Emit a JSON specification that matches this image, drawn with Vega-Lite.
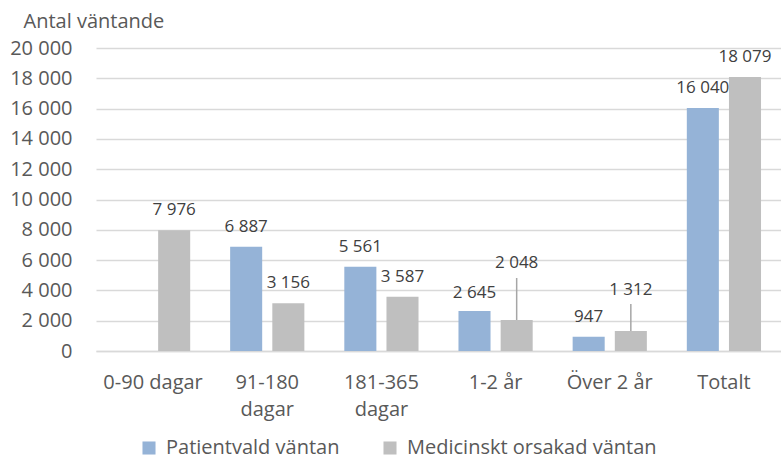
{
  "$schema": "https://vega.github.io/schema/vega-lite/v6.json",
  "width": 685,
  "height": 303,
  "autosize": {"type": "none"},
  "padding": {"left": 96, "top": 48, "right": 0, "bottom": 118},
  "background": "white",
  "config": {
    "font": "Open Sans",
    "view": {"stroke": null},
    "locale": {"number": {"decimal": ",", "thousands": " ", "grouping": [3], "currency": ["", " kr"]}},
    "axis": {"labelFont": "Open Sans", "labelFontSize": 20, "labelColor": "#595959", "titleFont": "Open Sans", "titleColor": "#595959"},
    "legend": {"labelFont": "Open Sans", "labelFontSize": 20, "labelColor": "#595959"}
  },
  "data": {
    "values": [
      {"kategori": "0-90 dagar", "serie": "Patientvald väntan", "antal": null},
      {"kategori": "0-90 dagar", "serie": "Medicinskt orsakad väntan", "antal": 7976},
      {"kategori": "91-180 dagar", "serie": "Patientvald väntan", "antal": 6887},
      {"kategori": "91-180 dagar", "serie": "Medicinskt orsakad väntan", "antal": 3156},
      {"kategori": "181-365 dagar", "serie": "Patientvald väntan", "antal": 5561},
      {"kategori": "181-365 dagar", "serie": "Medicinskt orsakad väntan", "antal": 3587},
      {"kategori": "1-2 år", "serie": "Patientvald väntan", "antal": 2645},
      {"kategori": "1-2 år", "serie": "Medicinskt orsakad väntan", "antal": 2048},
      {"kategori": "Över 2 år", "serie": "Patientvald väntan", "antal": 947},
      {"kategori": "Över 2 år", "serie": "Medicinskt orsakad väntan", "antal": 1312},
      {"kategori": "Totalt", "serie": "Patientvald väntan", "antal": 16040},
      {"kategori": "Totalt", "serie": "Medicinskt orsakad väntan", "antal": 18079}
    ]
  },
  "encoding": {
    "x": {
      "field": "kategori", "type": "nominal", "sort": null,
      "scale": {"paddingInner": 0.35, "paddingOuter": 0.175},
      "axis": {
        "title": null, "labelAngle": 0, "ticks": false, "domain": true, "domainColor": "#D9D9D9", "domainWidth": 1.5,
        "labelPadding": 21, "labelLineHeight": 27,
        "labelExpr": "(datum.label == '91-180 dagar' || datum.label == '181-365 dagar') ? split(datum.label, ' ') : datum.label"
      }
    },
    "xOffset": {"field": "serie", "type": "nominal", "sort": ["Patientvald väntan", "Medicinskt orsakad väntan"], "scale": {"paddingInner": 0.24}},
    "y": {
      "field": "antal", "type": "quantitative",
      "scale": {"domain": [0, 20000], "nice": false},
      "axis": {
        "values": [0, 2000, 4000, 6000, 8000, 10000, 12000, 14000, 16000, 18000, 20000],
        "format": ",d", "ticks": false, "domain": false, "grid": true, "gridColor": "#D9D9D9", "gridWidth": 1.5,
        "labelPadding": 24,
        "title": "Antal väntande", "titleAngle": 0, "titleAlign": "left", "titleBaseline": "alphabetic",
        "titleX": -73, "titleY": -21, "titleFontSize": 20, "titleFontWeight": "normal"
      }
    },
    "color": {
      "field": "serie", "type": "nominal", "sort": ["Patientvald väntan", "Medicinskt orsakad väntan"],
      "scale": {"domain": ["Patientvald väntan", "Medicinskt orsakad väntan"], "range": ["#95B3D7", "#BFBFBF"]},
      "legend": {"title": null, "orient": "none", "legendX": 43, "legendY": 390, "direction": "horizontal", "symbolType": "square", "symbolSize": 170, "symbolStrokeWidth": 0, "symbolOpacity": 1, "columnPadding": 40, "labelOffset": 7, "labelLimit": 400}
    }
  },
  "layer": [
    {"mark": {"type": "bar"}},
    {
      "transform": [{"filter": "datum.antal != null && datum.kategori != '1-2 år' && !(datum.kategori == 'Över 2 år' && datum.serie == 'Medicinskt orsakad väntan')"}],
      "mark": {"type": "text", "dy": -15, "baseline": "alphabetic", "fontSize": 17},
      "encoding": {"text": {"field": "antal", "type": "quantitative", "format": ",d"}, "color": {"value": "#404040"}}
    },
    {
      "transform": [{"filter": "datum.kategori == '1-2 år' && datum.serie == 'Patientvald väntan'"}],
      "mark": {"type": "text", "dy": -13, "baseline": "alphabetic", "fontSize": 17},
      "encoding": {"text": {"field": "antal", "type": "quantitative", "format": ",d"}, "color": {"value": "#404040"}}
    },
    {
      "transform": [{"filter": "datum.kategori == '1-2 år' && datum.serie == 'Medicinskt orsakad väntan'"}],
      "mark": {"type": "text", "dy": -52, "baseline": "alphabetic", "fontSize": 17},
      "encoding": {"text": {"field": "antal", "type": "quantitative", "format": ",d"}, "color": {"value": "#404040"}}
    },
    {
      "transform": [{"filter": "datum.kategori == 'Över 2 år' && datum.serie == 'Medicinskt orsakad väntan'"}],
      "mark": {"type": "text", "dy": -36, "baseline": "alphabetic", "fontSize": 17},
      "encoding": {"text": {"field": "antal", "type": "quantitative", "format": ",d"}, "color": {"value": "#404040"}}
    },
    {
      "transform": [{"filter": "datum.kategori == '1-2 år' && datum.serie == 'Medicinskt orsakad väntan'"}],
      "mark": {"type": "rule", "y2Offset": -42, "strokeWidth": 1.5},
      "encoding": {"y2": {"field": "antal"}, "color": {"value": "#A6A6A6"}}
    },
    {
      "transform": [{"filter": "datum.kategori == 'Över 2 år' && datum.serie == 'Medicinskt orsakad väntan'"}],
      "mark": {"type": "rule", "y2Offset": -27, "strokeWidth": 1.5},
      "encoding": {"y2": {"field": "antal"}, "color": {"value": "#A6A6A6"}}
    }
  ]
}
